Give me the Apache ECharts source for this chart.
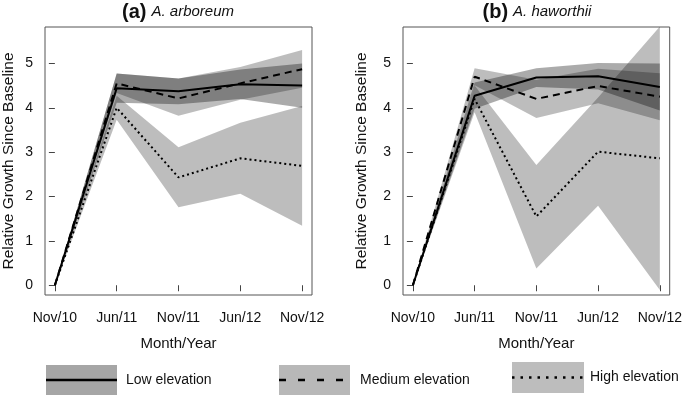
<!DOCTYPE html>
<html>
<head>
<meta charset="utf-8">
<script src="https://cdn.jsdelivr.net/npm/echarts@6/dist/echarts.min.js"></script>
<style>
  html, body { margin: 0; padding: 0; background: #fff; }
  #main { width: 685px; height: 396px; }
</style>
</head>
<body>
<div id="main"></div>
<script>
const categories = ['Nov/10', 'Jun/11', 'Nov/11', 'Jun/12', 'Nov/12'];
const yTicks = [0, 1, 2, 3, 4, 5];

// (a) A. arboreum
const aLow = [0, 4.44, 4.37, 4.53, 4.50];
const aLowLo = [0, 4.11, 4.08, 4.20, 4.00];
const aLowHi = [0, 4.77, 4.66, 4.86, 5.00];
const aMed = [0, 4.55, 4.21, 4.55, 4.87];
const aMedLo = [0, 4.33, 3.82, 4.18, 4.45];
const aMedHi = [0, 4.77, 4.66, 4.92, 5.30];
const aHigh = [0, 4.00, 2.43, 2.86, 2.69];
const aHighLo = [0, 3.73, 1.76, 2.06, 1.34];
const aHighHi = [0, 4.27, 3.11, 3.66, 4.04];

// (b) A. haworthii
const bLow = [0, 4.27, 4.68, 4.71, 4.47];
const bLowLo = [0, 3.98, 4.47, 4.41, 3.94];
const bLowHi = [0, 4.57, 4.89, 5.01, 5.00];
const bMed = [0, 4.70, 4.20, 4.49, 4.25];
const bMedLo = [0, 4.51, 3.77, 4.10, 3.72];
const bMedHi = [0, 4.89, 4.63, 4.88, 4.78];
const bHigh = [0, 4.20, 1.55, 3.01, 2.86];
const bHighLo = [0, 3.90, 0.38, 1.79, -0.11];
const bHighHi = [0, 4.50, 2.71, 4.23, 5.83];

const FONT = 'Liberation Sans, Arial, sans-serif';
const lowFill = 'rgba(0,0,0,0.33)';
const midFill = 'rgba(0,0,0,0.26)';
const highFill = 'rgba(0,0,0,0.26)';

const chart = echarts.init(document.getElementById('main'));

function pairs(arr) {
  return arr.map((v, i) => [i, v]);
}

// confidence band as one polygon: upper edge forward, lower edge back
function band(idx, lo, hi, color) {
  return {
    type: 'custom', xAxisIndex: idx, yAxisIndex: idx, silent: true, clip: true,
    data: lo.map((v, i) => [i, v, hi[i]]),
    encode: { x: 0, y: [1, 2] },
    renderItem: (params, api) => {
      if (params.dataIndex !== 0) return null;
      const pts = [];
      hi.forEach((v, i) => pts.push(api.coord([i, v])));
      for (let i = lo.length - 1; i >= 0; i--) pts.push(api.coord([i, lo[i]]));
      return { type: 'polygon', shape: { points: pts }, style: { fill: color } };
    }
  };
}

function line(idx, arr, dash, width) {
  return {
    type: 'line', xAxisIndex: idx, yAxisIndex: idx,
    data: pairs(arr), symbol: 'none', silent: true, z: 5,
    lineStyle: { color: '#000', width: width, type: dash, cap: 'butt' }
  };
}

function xAxis(idx) {
  return {
    type: 'value', gridIndex: idx, min: -0.16, max: 4.16,
    name: 'Month/Year', nameLocation: 'middle', nameGap: 41,
    nameTextStyle: { fontSize: 15, color: '#111', fontFamily: FONT },
    axisLine: { show: false },
    axisTick: { show: true, length: 6, lineStyle: { color: '#444' }, customValues: [0, 1, 2, 3, 4] },
    axisLabel: {
      customValues: [0, 1, 2, 3, 4], margin: 16, fontSize: 14, color: '#111', fontFamily: FONT,
      formatter: v => categories[Math.round(v)] || ''
    },
    splitLine: { show: false }
  };
}

function yAxis(idx, gap) {
  return {
    type: 'value', gridIndex: idx, min: -0.22, max: 5.82,
    name: 'Relative Growth Since Baseline', nameLocation: 'middle', nameGap: gap,
    nameTextStyle: { fontSize: 15.5, color: '#111', fontFamily: FONT },
    axisLine: { show: false },
    axisTick: { show: true, length: 6, lineStyle: { color: '#444' }, customValues: yTicks },
    axisLabel: { customValues: yTicks, margin: 12, fontSize: 14, color: '#111', fontFamily: FONT },
    splitLine: { show: false }
  };
}

function legendItem(x, y, w, h, fill, dash, width, label, tx) {
  return [
    { type: 'rect', shape: { x: x, y: y, width: w, height: h }, style: { fill: fill } },
    {
      type: 'line', shape: { x1: x, y1: y + h / 2, x2: x + w, y2: y + h / 2 },
      style: { stroke: '#000', lineWidth: width, lineDash: dash }
    },
    {
      type: 'text', x: tx, y: y + h / 2,
      style: { text: label, fontSize: 14, fill: '#111', fontFamily: FONT, verticalAlign: 'middle' }
    }
  ];
}

const titleRich = {
  b: { fontWeight: 'bold', fontSize: 20, fontFamily: FONT, color: '#111' },
  i: { fontWeight: 'normal', fontStyle: 'italic', fontSize: 15, fontFamily: FONT, color: '#111' }
};

const option = {
  animation: false,
  textStyle: { fontFamily: FONT },
  title: [
    { left: 173, top: -3, textAlign: 'center', text: '{b|(a)} {i|A. arboreum}', textStyle: { rich: titleRich } },
    { left: 532, top: -3, textAlign: 'center', text: '{b|(b)} {i|A. haworthii}', textStyle: { rich: titleRich } }
  ],
  grid: [
    { left: 43, top: 27, width: 269, height: 268, show: true, borderColor: '#555', borderWidth: 1 },
    { left: 403, top: 27, width: 269, height: 268, show: true, borderColor: '#555', borderWidth: 1 }
  ],
  xAxis: [xAxis(0), xAxis(1)],
  yAxis: [yAxis(0, 28), yAxis(1, 33)],
  series: [
    band(0, aHighLo, aHighHi, highFill),
    band(0, aMedLo, aMedHi, midFill),
    band(0, aLowLo, aLowHi, lowFill),
    line(0, aHigh, [2, 3], 2),
    line(0, aMed, [7, 5], 2),
    line(0, aLow, 'solid', 2),
    band(1, bHighLo, bHighHi, highFill),
    band(1, bMedLo, bMedHi, midFill),
    band(1, bLowLo, bLowHi, lowFill),
    line(1, bHigh, [2, 3], 2),
    line(1, bMed, [7, 5], 2),
    line(1, bLow, 'solid', 2)
  ],
  graphic: [
    ...legendItem(46, 365, 71, 30, '#a6a6a6', null, 2.6, 'Low elevation', 126),
    ...legendItem(279, 365, 71, 30, '#b8b8b8', [7, 12], 2.6, 'Medium elevation', 360),
    ...legendItem(512, 362, 72, 31, '#bdbdbd', [2.5, 6], 2.6, 'High elevation', 590)
  ]
};

chart.setOption(option);
</script>
</body>
</html>
